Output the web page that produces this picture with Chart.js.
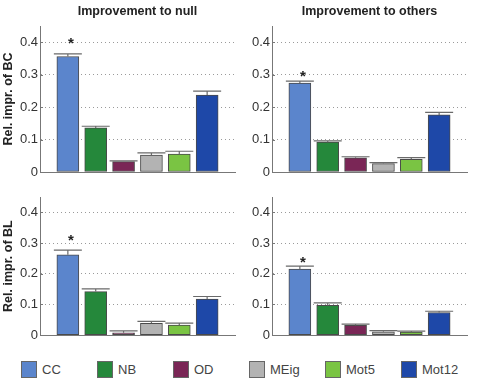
<!DOCTYPE html>
<html>
<head>
<meta charset="utf-8">
<script src="https://cdn.jsdelivr.net/npm/chart.js@4.4.1/dist/chart.umd.min.js"></script>
<style>
  body { margin: 0; background: #fff; width: 495px; height: 379px; position: relative; overflow: hidden;
         font-family: "Liberation Sans", Arial, sans-serif; }
  canvas { position: absolute; }
  #legend { position: absolute; left: 21px; top: 361px; display: flex; }
  .item { width: 76px; display: flex; align-items: center; font-size: 13px; color: #444; }
  .swatch { width: 14px; height: 15px; border: 1px solid #666; margin-right: 5px; box-sizing: content-box; }
</style>
</head>
<body>
<canvas id="bcNull" width="245" height="185" style="left:0;top:0"></canvas>
<canvas id="bcOthers" width="250" height="185" style="left:245px;top:0"></canvas>
<canvas id="blNull" width="245" height="160" style="left:0;top:185px"></canvas>
<canvas id="blOthers" width="250" height="160" style="left:245px;top:185px"></canvas>
<div id="legend"></div>

<script>
// categories and colours
const categories = ['CC', 'NB', 'OD', 'MEig', 'Mot5', 'Mot12'];
const colors = ['#5b85cc', '#25883b', '#7a2656', '#b3b3b3', '#7ac443', '#1e48a8'];
const yTicks = [0, 0.1, 0.2, 0.3, 0.4];

// relative improvement values (mean) and error (upper half of error bar)
const bcNullValues = [0.356, 0.136, 0.032, 0.052, 0.055, 0.237];
const bcNullErrors = [0.008, 0.005, 0.002, 0.007, 0.009, 0.012];
const bcOthersValues = [0.274, 0.092, 0.044, 0.026, 0.039, 0.176];
const bcOthersErrors = [0.006, 0.004, 0.003, 0.003, 0.005, 0.008];
const blNullValues = [0.262, 0.142, 0.008, 0.039, 0.033, 0.118];
const blNullErrors = [0.015, 0.009, 0.006, 0.006, 0.006, 0.008];
const blOthersValues = [0.215, 0.097, 0.032, 0.011, 0.010, 0.074];
const blOthersErrors = [0.010, 0.008, 0.004, 0.004, 0.003, 0.004];
// significance markers
const significant = [true, false, false, false, false, false];

// draws error bars, significance asterisks and the small inward y ticks
const errorBars = {
  id: 'errorBars',
  afterDatasetsDraw(chart, args, opts) {
    const ctx = chart.ctx;
    const y = chart.scales.y;
    const ds = chart.data.datasets[0];
    const meta = chart.getDatasetMeta(0);
    ctx.save();
    // inward tick marks
    ctx.strokeStyle = '#777';
    ctx.lineWidth = 1;
    ctx.beginPath();
    y.ticks.forEach(t => {
      const py = Math.round(y.getPixelForValue(t.value)) + 0.5;
      ctx.moveTo(chart.chartArea.left, py);
      ctx.lineTo(chart.chartArea.left + 3, py);
    });
    ctx.stroke();

    meta.data.forEach((bar, i) => {
      if (ds.data[i] == null) return;
      const top = y.getPixelForValue(ds.data[i] + ds.errors[i]);
      ctx.strokeStyle = '#6a6a6a';
      ctx.lineWidth = 1.2;
      ctx.beginPath();
      ctx.moveTo(bar.x, bar.y);
      ctx.lineTo(bar.x, top);
      ctx.moveTo(bar.x - 14, top);
      ctx.lineTo(bar.x + 14, top);
      ctx.stroke();
      if (ds.stars[i]) {
        ctx.fillStyle = '#222';
        ctx.font = 'bold 15px "Liberation Sans", Arial, sans-serif';
        ctx.textAlign = 'center';
        ctx.textBaseline = 'alphabetic';
        ctx.fillText('*', bar.x + 3, top - opts.starGap + 9);
      }
    });
    ctx.restore();
  }
};

function makeChart(id, values, errors, o) {
  const pad = a => [null, ...a, null];
  return new Chart(document.getElementById(id), {
    type: 'bar',
    data: {
      labels: ['', ...categories, ''],
      datasets: [{
        data: pad(values),
        errors: pad(errors),
        stars: pad(significant),
        backgroundColor: pad(colors),
        borderColor: '#4a4a4a',
        borderWidth: 1,
        borderSkipped: false,
        barThickness: 22
      }]
    },
    options: {
      responsive: false,
      animation: false,
      layout: { padding: { top: o.padTop, right: o.padRight, left: 0, bottom: 0 } },
      plugins: {
        legend: { display: false },
        tooltip: { enabled: false },
        title: {
          display: !!o.title,
          text: o.title,
          fullSize: false,
          color: '#222',
          font: { family: '"Liberation Sans", Arial, sans-serif', size: 12.5, weight: 'bold' },
          padding: { top: 4.5, bottom: 6.5 }
        },
        errorBars: { starGap: o.starGap }
      },
      scales: {
        x: {
          offset: false,
          grid: { display: false, drawTicks: false },
          border: { display: true, color: '#777', width: 1 },
          ticks: { display: false },
          afterFit: s => { s.height = o.xHeight; }
        },
        y: {
          min: 0,
          max: 0.45,
          afterBuildTicks: s => { s.ticks = yTicks.map(v => ({ value: v })); },
          ticks: {
            padding: 2,
            color: '#333',
            font: { family: '"Liberation Sans", Arial, sans-serif', size: 13 }
          },
          grid: {
            drawTicks: false,
            color: c => (c.tick && c.tick.value === 0 ? 'transparent' : '#9a9a9a'),
            lineWidth: 1
          },
          border: { display: true, color: '#777', width: 1, dash: [1, 3] },
          title: {
            display: !!o.yLabel,
            text: o.yLabel,
            color: '#222',
            font: { family: '"Liberation Sans", Arial, sans-serif', size: 12.5, weight: 'bold' },
            padding: { top: 1, bottom: 0 }
          },
          afterFit: s => { s.width = o.yWidth; }
        }
      }
    },
    plugins: [errorBars]
  });
}

makeChart('bcNull', bcNullValues, bcNullErrors,
  { title: 'Improvement to null', yLabel: 'Rel. impr. of BC', yWidth: 40, padRight: 10, padTop: 0, xHeight: 13, starGap: 15 });
makeChart('bcOthers', bcOthersValues, bcOthersErrors,
  { title: 'Improvement to others', yLabel: '', yWidth: 27, padRight: 28, padTop: 0, xHeight: 13, starGap: 9 });
makeChart('blNull', blNullValues, blNullErrors,
  { title: '', yLabel: 'Rel. impr. of BL', yWidth: 40, padRight: 10, padTop: 12, xHeight: 3, starGap: 14 });
makeChart('blOthers', blOthersValues, blOthersErrors,
  { title: '', yLabel: '', yWidth: 27, padRight: 28, padTop: 12, xHeight: 3, starGap: 8 });

// shared legend below the panels
const legend = document.getElementById('legend');
categories.forEach((c, i) => {
  const item = document.createElement('div');
  item.className = 'item';
  const sw = document.createElement('span');
  sw.className = 'swatch';
  sw.style.background = colors[i];
  item.appendChild(sw);
  item.appendChild(document.createTextNode(c));
  legend.appendChild(item);
});
</script>
</body>
</html>
